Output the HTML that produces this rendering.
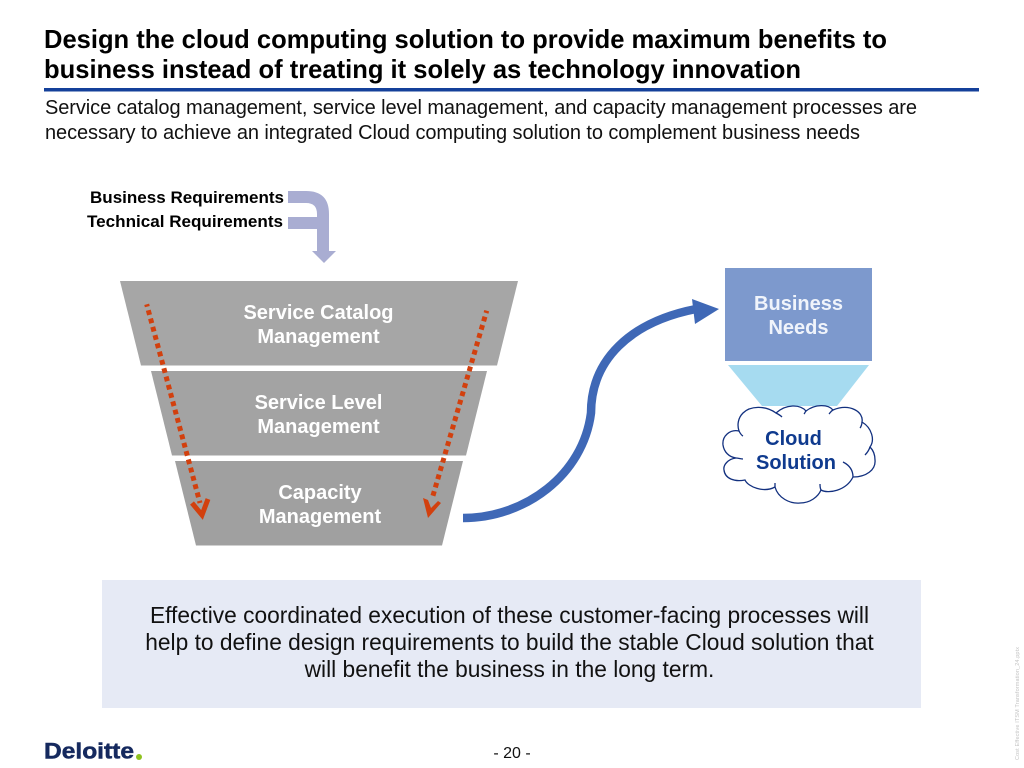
<!DOCTYPE html>
<html><head><meta charset="utf-8">
<style>
html,body{margin:0;padding:0;background:#fff}
body{width:1024px;height:768px;overflow:hidden;position:relative}
svg{position:absolute;left:0;top:0}
text{font-family:"Liberation Sans",Arial,sans-serif}
</style></head>
<body>
<svg width="1024" height="768" viewBox="0 0 1024 768" xmlns="http://www.w3.org/2000/svg">
<rect width="1024" height="768" fill="#fff"/>
<text x="44" y="48" font-size="26" font-weight="700" fill="#000" textLength="843" lengthAdjust="spacingAndGlyphs">Design the cloud computing solution to provide maximum benefits to</text>
<text x="44" y="78" font-size="26" font-weight="700" fill="#000" textLength="757" lengthAdjust="spacingAndGlyphs">business instead of treating it solely as technology innovation</text>
<rect x="44" y="88" width="935" height="3.5" fill="#14409a"/>
<text x="45" y="114" font-size="20" fill="#111" textLength="872" lengthAdjust="spacing">Service catalog management, service level management, and capacity management processes are</text>
<text x="45" y="139" font-size="20" fill="#111" textLength="815" lengthAdjust="spacing">necessary to achieve an integrated Cloud computing solution to complement business needs</text>

<text x="90" y="203" font-size="17" font-weight="700" fill="#000" textLength="194" lengthAdjust="spacingAndGlyphs">Business Requirements</text>
<text x="87" y="227" font-size="17" font-weight="700" fill="#000" textLength="196" lengthAdjust="spacingAndGlyphs">Technical Requirements</text>
<path d="M288 191H306Q329 191 329 214V251H336L324 263L312 251H317V229H288V217H317V214Q317 203 306 203H288Z" fill="#a9add2"/>

<polygon points="120,281 518,281 497,365.500 141,365.500" fill="#a6a6a6"/>
<polygon points="151,371 487,371 466,455.500 172,455.500" fill="#a3a3a3"/>
<polygon points="175,461 463,461 442,545.500 196,545.500" fill="#a0a0a0"/>
<g font-size="20" font-weight="700" fill="#fff" text-anchor="middle">
<text x="318.500" y="319">Service Catalog</text>
<text x="318.500" y="343">Management</text>
<text x="318.500" y="409">Service Level</text>
<text x="318.500" y="433">Management</text>
<text x="320" y="499">Capacity</text>
<text x="320" y="523">Management</text>
</g>
<line x1="146.700" y1="304.300" x2="200" y2="503" stroke="#d2400e" stroke-width="5" stroke-dasharray="4.800 3.780" stroke-dashoffset="2.400"/>
<polyline points="192,503 202,515 208,499" fill="none" stroke="#d2400e" stroke-width="5"/>
<line x1="486.700" y1="310.700" x2="432" y2="499" stroke="#d2400e" stroke-width="5" stroke-dasharray="4.800 3.850" stroke-dashoffset="2.400"/>
<polygon points="423,498 428,500 431,508 438,501 441,503 428,518" fill="#d2400e"/>

<path d="M463 518C525 518 583 475 591 413C591 360 630 322 696 309" fill="none" stroke="#3f68b6" stroke-width="8.500"/>
<polygon points="692,299 719,309 695,324" fill="#3f68b6"/>

<rect x="725" y="268" width="147" height="93" fill="#7d99cd"/>
<text x="798.500" y="310" font-size="20" font-weight="700" fill="#f0f4fb" text-anchor="middle">Business</text>
<text x="798.500" y="334" font-size="20" font-weight="700" fill="#f0f4fb" text-anchor="middle">Needs</text>
<polygon points="728,365 869,365 837,406 762,406" fill="#a6dbf0"/>
<path d="M739 431C730 429 722 436 723 445C724 452 729 457 736 458C728 459 723 465 724 470C725 479 735 482 745 480C748 487 764 493 775 487C778 498 790 504 800 503C810 503 818 497 821 490C828 494 846 491 853 477C866 477 876 470 875 460C875 454 873 450 870 447C875 440 872 428 862 422C864 412 850 403 833 410C828 404 815 404 806 411C800 404 786 404 776 413C765 405 750 406 743 413C738 418 737 425 739 431Z" fill="#fff" stroke="#12307f" stroke-width="1.300"/>
<g fill="none" stroke="#12307f" stroke-width="1.300">
<path d="M739 431C740 433 741 435 743 436"/>
<path d="M736 458C738 458 741 459 743 459"/>
<path d="M775 487C775 485 775 484 775 483"/>
<path d="M821 490C820 488 820 486 820 484"/>
<path d="M853 477C853 470 849 465 843 462"/>
<path d="M870 447C869 450 867 453 865 455"/>
<path d="M862 422C862 424 861 427 860 428"/>
<path d="M833 410C831 411 830 413 829 414"/>
<path d="M806 411C805 412 805 413 804 414"/>
<path d="M776 413C778 414 780 415 782 417"/>
</g>
<text x="793.500" y="445" font-size="20" font-weight="700" fill="#0f3a8e" text-anchor="middle">Cloud</text>
<text x="796" y="469" font-size="20" font-weight="700" fill="#0f3a8e" text-anchor="middle">Solution</text>

<rect x="102" y="580" width="819" height="128" fill="#e6eaf5"/>
<g font-size="22.750" fill="#111" text-anchor="middle">
<text x="509.500" y="623">Effective coordinated execution of these customer-facing processes will</text>
<text x="509.500" y="650">help to define design requirements to build the stable Cloud solution that</text>
<text x="509.500" y="677">will benefit the business in the long term.</text>
</g>

<text x="44" y="758.500" font-size="22.500" font-weight="700" fill="#15295e" stroke="#15295e" stroke-width="0.500" textLength="90" lengthAdjust="spacingAndGlyphs">Deloitte</text>
<circle cx="139" cy="757" r="3" fill="#8fc21f"/>
<text x="512" y="758" font-size="16" fill="#111" text-anchor="middle">- 20 -</text>
<text transform="translate(1019,760) rotate(-90)" font-size="5.500" fill="#c4c4c4" textLength="113" lengthAdjust="spacing">Cost Effective ITSM Transformation_24.pptx</text>
</svg>
</body></html>
